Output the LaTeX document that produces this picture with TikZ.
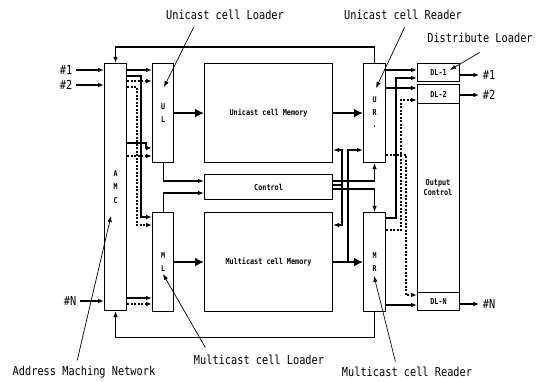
\documentclass[tikz,border=0pt]{standalone}
\usepackage{fontspec}
\newfontfamily\dgfont[FakeStretch=0.83]{DejaVu Sans Mono}
\usetikzlibrary{arrows.meta}

\begin{document}
\begin{tikzpicture}[x=1pt, y=-1pt, line width=1.1pt,
  >={Latex[length=6pt,width=4.5pt]},
  box/.style={draw, anchor=north west, inner sep=0pt},
  captxt/.style={font=\dgfont\fontsize{12.4}{14}\selectfont, inner sep=0pt},
  io/.style={captxt, inner sep=3pt},
  tag/.style={font=\dgfont\bfseries\fontsize{8.2}{10}\selectfont, align=center},
  ltr/.style={font=\dgfont\bfseries\fontsize{8}{13.5}\selectfont, align=center},
  dots/.style={dash pattern=on 2pt off 1.5pt},
  bus/.style={->, line width=2.8pt, >={Latex[length=9pt,width=9pt]}}]
\useasboundingbox (0,0) rectangle (541,382);

% blocks
\node[box, ltr, minimum width=22pt, minimum height=247pt] (amc) at (104,63) {A\\M\\C};
\node[box, ltr, minimum width=21pt, minimum height=99pt] (ul) at (152,63) {U\\L};
\node[box, ltr, minimum width=21pt, minimum height=99pt] (ml) at (152,212) {M\\L};
\node[box, tag, minimum width=128pt, minimum height=99pt] (umem) at (204,63) {Unicast cell Memory};
\node[box, tag, minimum width=128pt, minimum height=25pt] (ctrl) at (204,174) {Control};
\node[box, tag, minimum width=128pt, minimum height=99pt] (mmem) at (204,212) {Multicast cell Memory};
\node[box, ltr, minimum width=22pt, minimum height=99pt] (ur) at (363,63) {U\\R\\·};
\node[box, ltr, minimum width=22pt, minimum height=99pt] (mr) at (363,212) {M\\R};
\node[box, minimum width=42pt, minimum height=226pt] (oc) at (417,84) {};
\node[tag] (octxt) at (438,188) {Output\\Control};
\node[box, tag, minimum width=42pt, minimum height=18pt] (dl1) at (417,63) {DL-1};
\node[box, tag, minimum width=42pt, minimum height=19pt] (dl2) at (417,84) {DL-2};
\node[box, tag, minimum width=42pt, minimum height=18pt] (dln) at (417,292) {DL-N};

% ports
\node[io] (in1) at (66,70) {\#1};
\node[io] (in2) at (66,85) {\#2};
\node[io] (inN) at (70,301) {\#N};
\node[io] (out1) at (489,75) {\#1};
\node[io] (out2) at (489,95) {\#2};
\node[io] (outN) at (489,304) {\#N};

% captions
\node[captxt] (ulcap) at (225,15) {Unicast cell Loader};
\node[captxt] (urcap) at (403,15) {Unicast cell Reader};
\node[captxt] (dlcap) at (480,38) {Distribute Loader};
\node[captxt] (amncap) at (84,372) {Address Maching Network};
\node[captxt] (mlcap) at (259,360) {Multicast cell Loader};
\node[captxt] (mrcap) at (407,372) {Multicast cell Reader};

\coordinate (ultip) at (164,87);
\coordinate (urtip) at (376,88);
\coordinate (dltip) at (450,70);
\coordinate (amntip) at (111,216);
\coordinate (mltip) at (163,274);
\coordinate (mrtip) at (374,276);

% inputs and outputs
\draw[->] (in1) -- (amc.west |- in1);
\draw[->] (in2) -- (amc.west |- in2);
\draw[->] (inN) -- (amc.west |- inN);
\draw[->] (dl1.east |- out1.west) -- (out1.west);
\draw[->] (dl2.east |- out2.west) -- (out2.west);
\draw[->] (dln.east |- outN.west) -- (outN.west);

% address maching network to loaders
\draw[->] (amc.east |- 0,70) -- (ul.west |- 0,70);
\draw[->, dots] (amc.east |- 0,81) -- (ul.west |- 0,81);
\draw[->] (amc.east |- 0,76) -- (141,76) -- (141,217) -- (ml.west |- 0,217);
\draw[->, dots] (amc.east |- 0,87) -- (137,87) -- (137,225) -- (ml.west |- 0,225);
\draw[->] (amc.east |- 0,143) -- (146,143) -- (146,148) -- (ul.west |- 0,148);
\draw[->, dots] (amc.east |- 0,156) -- (ul.west |- 0,156);
\draw[->] (amc.east |- 0,298) -- (ml.west |- 0,298);
\draw[->, dots] (amc.east |- 0,304) -- (ml.west |- 0,304);

% memories
\draw[bus] (ul) -- (umem);
\draw[bus] (umem) -- (ur);
\draw[bus] (ml) -- (mmem);
\draw[bus] (mmem) -- (mr);

% control
\draw[->] (ul.south) |- (ctrl.west |- 0,181);
\draw[->] (ml.north) |- (ctrl.west |- 0,193);
\draw[->] (ctrl.east |- 0,181) -| (ur.south);
\draw[->] (ctrl.east |- 0,189) -| (mr.north);
\coordinate (rdbr) at (342,185);
\draw (ctrl.east |- rdbr) -- (rdbr);
\draw[->] (rdbr) |- (umem.east |- 0,150);
\draw[->] (rdbr) |- (mmem.east |- 0,225);
\coordinate (mtap) at (348,261.5);
\draw[->] (mtap) |- (ur.west |- 0,150);

% readers to distribute loaders
\draw[->] (ur.east |- 0,70) -- (dl1.west |- 0,70);
\draw[->] (ur.east |- 0,88) -- (dl2.west |- 0,88);
\draw[->, dots] (ur.east |- 0,155) -- (406,155) -- (406,295) -- (dln.west |- 0,295);
\draw[->] (mr.east |- 0,218) -- (396,218) -- (396,78) -- (dl1.west |- 0,78);
\draw[->, dots] (mr.east |- 0,230) -- (401,230) -- (401,100) -- (dl2.west |- 0,100);
\draw[->] (mr.east |- 0,305) -- (dln.west |- 0,305);

% feedback to the network
\draw[->] (ur.north) -- ++(0,-16) -| (amc.north);
\draw[->] (mr.south) -- ++(0,25) -| (amc.south);

% callouts
\draw[->, line width=0.7pt] ([shift={(28pt,-7pt)}]ulcap.south west) -- (ultip);
\draw[->, line width=0.7pt] ([shift={(61pt,-7pt)}]urcap.south west) -- (urtip);
\draw[->, line width=0.7pt] ([shift={(53pt,-9pt)}]dlcap.south west) -- (dltip);
\draw[->, line width=0.7pt] ([shift={(65pt,5pt)}]amncap.north west) -- (amntip);
\draw[->, line width=0.7pt] ([shift={(12pt,7pt)}]mlcap.north west) -- (mltip);
\draw[->, line width=0.7pt] ([shift={(54pt,5pt)}]mrcap.north west) -- (mrtip);
\end{tikzpicture}
\end{document}
